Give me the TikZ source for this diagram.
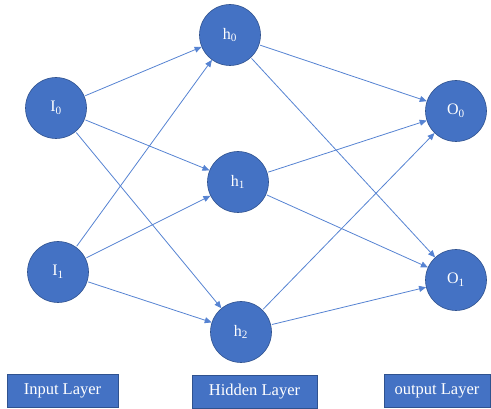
\documentclass[tikz,border=0pt]{standalone}
\usepackage{fontspec}
\setmainfont{Liberation Serif}
\usepackage{tikz}
\usetikzlibrary{arrows.meta}

\definecolor{nodeblue}{HTML}{4472C4}
\definecolor{edgeblue}{HTML}{2F528F}
\definecolor{linkblue}{HTML}{5683D2}

\begin{document}
\begin{tikzpicture}[x=1pt,y=-1pt,
  neuron/.style={circle,fill=nodeblue,draw=edgeblue,line width=0.6pt,minimum size=61pt,inner sep=0pt,text=white,font=\fontsize{16}{18}\selectfont},
  layerbox/.style={rectangle,fill=nodeblue,draw=edgeblue,line width=0.6pt,inner sep=0pt,text=white,font=\fontsize{16.5}{18}\selectfont},
  link/.style={-{Triangle[length=7pt,width=6pt]},linkblue,line width=0.8pt,shorten <=1pt}]
\useasboundingbox (0,0) rectangle (491,409);

% Input layer
\node[neuron] (i0) at (56,108) {I\textsubscript{0}};
\node[neuron] (i1) at (58,272) {I\textsubscript{1}};

% Hidden layer
\node[neuron] (h0) at (230,35) {h\textsubscript{0}};
\node[neuron] (h1) at (238,182) {h\textsubscript{1}};
\node[neuron] (h2) at (241,332) {h\textsubscript{2}};

% Output layer
\node[neuron] (o0) at (456,111) {O\textsubscript{0}};
\node[neuron] (o1) at (456,280) {O\textsubscript{1}};

% Input -> hidden
\draw[link] (i0) -- (h0);
\draw[link] (i0) -- (h1);
\draw[link] (i0) -- (h2);
\draw[link] (i1) -- (h0);
\draw[link] (i1) -- (h1);
\draw[link] (i1) -- (h2);

% Hidden -> output
\draw[link] (h0) -- (o0);
\draw[link] (h0) -- (o1);
\draw[link] (h1) -- (o0);
\draw[link] (h1) -- (o1);
\draw[link] (h2) -- (o0);
\draw[link] (h2) -- (o1);

% Layer captions
\node[layerbox,minimum width=111pt,minimum height=33pt] (inlab) at (62.5,391) {Input Layer};
\node[layerbox,minimum width=125pt,minimum height=33pt] (hidlab) at (254.5,392) {Hidden Layer};
\node[layerbox,minimum width=106pt,minimum height=33pt] (outlab) at (437,390.5) {output Layer};
\end{tikzpicture}
\end{document}
